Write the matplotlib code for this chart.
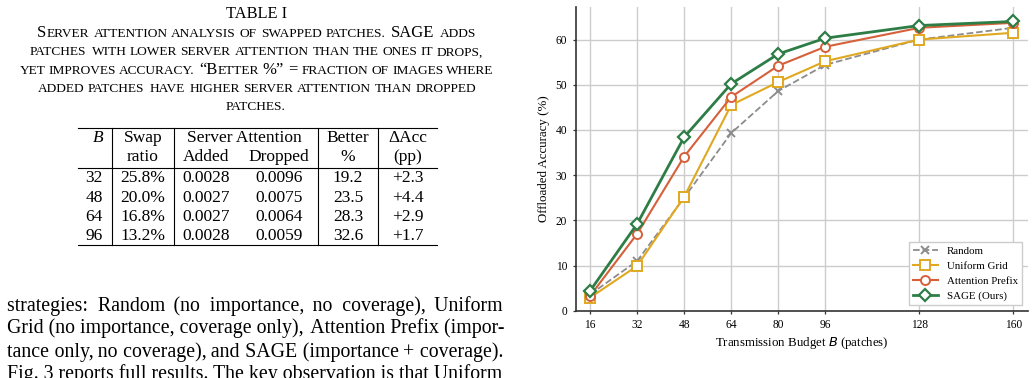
import matplotlib
matplotlib.use('Agg')
import matplotlib.pyplot as plt
from matplotlib.font_manager import findfont, FontProperties, get_font
from matplotlib.ft2font import FT2Font, LoadFlags
from matplotlib.backends.backend_agg import get_hinting_flag

SERIF = 'Liberation Serif'
plt.rcParams['font.family'] = [SERIF, 'DejaVu Serif']

W, H = 1035, 378

# ---- chart data (offloaded accuracy, %) ----
budgets = [16, 32, 48, 64, 80, 96, 128, 160]
random_acc = [3.6, 11.0, 25.0, 39.3, 48.6, 54.4, 60.0, 62.6]
uniform_acc = [2.9, 9.9, 25.2, 45.5, 50.6, 55.2, 60.0, 61.5]
prefix_acc = [3.3, 17.0, 34.1, 47.3, 54.2, 58.4, 62.6, 63.7]
sage_acc = [4.4, 19.2, 38.4, 50.2, 56.8, 60.3, 63.1, 64.0]
y_ticks = [0, 10, 20, 30, 40, 50, 60]

# ---- table data ----
tbl_budget = [32, 48, 64, 96]
swap_ratio = [25.8, 20.0, 16.8, 13.2]
attn_added = [0.0028, 0.0027, 0.0027, 0.0028]
attn_dropped = [0.0096, 0.0075, 0.0064, 0.0059]
better_pct = [19.2, 23.5, 28.3, 32.6]
delta_acc = [2.3, 4.4, 2.9, 1.7]

caption_title = 'TABLE I'
caption_lines = [
    'Server attention analysis of swapped patches. SAGE adds',
    'patches with lower server attention than the ones it drops,',
    'yet improves accuracy. \u201cBetter %\u201d = fraction of images where',
    'added patches have higher server attention than dropped',
    'patches.',
]
body_lines = [
    'strategies: Random (no importance, no coverage), Uniform',
    'Grid (no importance, coverage only), Attention Prefix (impor-',
    'tance only, no coverage), and SAGE (importance + coverage).',
    'Fig. 3 reports full results. The key observation is that Uniform',
]

fig = plt.figure(figsize=(W / 100, H / 100), dpi=100)
renderer = fig.canvas.get_renderer()

# page layer in pixel coordinates
page = fig.add_axes([0, 0, 1, 1])
page.set_xlim(0, W)
page.set_ylim(H, 0)
page.axis('off')

serif_path = findfont(FontProperties(family=SERIF))
serif_font = FT2Font(serif_path, hinting_factor=1)
draw_font = get_font(serif_path)


def adv_w(s, size):
    # unhinted advance width in pixels (dpi 100)
    serif_font.set_size(size, 100)
    total = 0.0
    for ch in s:
        g = serif_font.load_char(ord(ch), flags=LoadFlags.NO_HINTING)
        total += g.linearHoriAdvance / 65536
    return total


def draw_shift(s, size):
    # natural left bearing minus the offset Agg uses when drawing
    serif_font.set_size(size, 100)
    g = serif_font.load_char(ord(s[0]), flags=LoadFlags.NO_HINTING)
    lb = g.horiBearingX / 64
    draw_font.clear()
    draw_font.set_size(size, 100)
    draw_font.set_text(s, 0.0, flags=get_hinting_flag())
    xo = draw_font.get_bitmap_offset()[0] / 64
    return lb - xo


def ink_w(s, size):
    t = page.text(0, 0, s, fontsize=size)
    w = t.get_window_extent(renderer=renderer).width
    t.remove()
    return w


def small_caps_line(s, xc, yb, big, small):
    space = adv_w(' ', big)
    words = []
    for word in s.split(' '):
        runs = []
        for ch in word:
            if ch.islower():
                sz = small
            elif ch.isalnum() or not runs:
                sz = big
            else:
                sz = runs[-1][1]  # punctuation follows the run before it
            c = ch.upper()
            if runs and runs[-1][1] == sz:
                runs[-1][0] += c
            else:
                runs.append([c, sz])
        words.append([(r[0], r[1], adv_w(r[0], r[1])) for r in runs])
    total = sum(sum(r[2] for r in w) for w in words) + space * (len(words) - 1)
    x = xc - total / 2
    for w in words:
        for txt, sz, wd in w:
            page.text(x + draw_shift(txt, sz), yb, txt, fontsize=sz, ha='left', va='baseline')
            x += wd
        x += space


def justified_line(s, x0, x1, yb, size):
    # one text object per line; word gaps widened with hair spaces
    words = s.split(' ')
    gaps = len(words) - 1
    hair = '\u200a'
    sep = ' '
    if ink_w(s, size) > x1 - x0:
        sep = '\u2009'
    base = ink_w(sep.join(words), size)
    hair_w = (ink_w('a' + hair * 20 + 'a', size) - ink_w('aa', size)) / 20
    extra = max(0.0, (x1 - x0 - base) / gaps / hair_w)
    out = words[0]
    for i in range(1, len(words)):
        n = round(extra * i) - round(extra * (i - 1))
        out += sep + hair * n + words[i]
    page.text(x0, yb, out, fontsize=size, ha='left', va='baseline')


# ---- caption ----
page.text(257, 17.8, caption_title, fontsize=11.8, ha='center', va='baseline')
for i, line in enumerate(caption_lines):
    small_caps_line(line, 256, 37 + 18.3 * i, 12, 9.6)

# ---- table ----
tfs = 12.5
tl, tr = 78, 437
top_rule, mid_rule, bot_rule = 128.3, 168, 245
for yy in (top_rule, mid_rule, bot_rule):
    page.plot([tl, tr], [yy, yy], color='black', lw=0.8)
for xx in (111.5, 174, 318, 378):
    page.plot([xx, xx], [top_rule, bot_rule], color='black', lw=0.8)

h1, h2 = 142, 161.3
page.text(103, h1, 'B', fontsize=tfs, fontstyle='italic', ha='right', va='baseline')
page.text(142.7, h1, 'Swap', fontsize=tfs, ha='center', va='baseline')
page.text(142.7, h2, 'ratio', fontsize=tfs, ha='center', va='baseline')
page.text(244, h1, 'Server Attention', fontsize=tfs, ha='center', va='baseline')
page.text(206.5, h2, 'Added', fontsize=tfs, ha='center', va='baseline')
page.text(279, h2, 'Dropped', fontsize=tfs, ha='center', va='baseline')
page.text(348, h1, 'Better', fontsize=tfs, ha='center', va='baseline')
page.text(348, h2, '%', fontsize=tfs, ha='center', va='baseline')
page.text(408, h1, '\u0394Acc', fontsize=tfs, ha='center', va='baseline')
page.text(408, h2, '(pp)', fontsize=tfs, ha='center', va='baseline')

for i in range(len(tbl_budget)):
    yb = 182.3 + 19.2 * i
    page.text(103, yb, str(tbl_budget[i]), fontsize=tfs, ha='right', va='baseline')
    page.text(142.7, yb, f'{swap_ratio[i]:.1f}%', fontsize=tfs, ha='center', va='baseline')
    page.text(206.5, yb, f'{attn_added[i]:.4f}', fontsize=tfs, ha='center', va='baseline')
    page.text(279, yb, f'{attn_dropped[i]:.4f}', fontsize=tfs, ha='center', va='baseline')
    page.text(348, yb, f'{better_pct[i]:.1f}', fontsize=tfs, ha='center', va='baseline')
    page.text(408, yb, f'+{delta_acc[i]:.1f}', fontsize=tfs, ha='center', va='baseline')

# ---- body text (last line runs off the bottom edge like the page crop) ----
for i, line in enumerate(body_lines):
    justified_line(line, 7, 503, 310.5 + 23 * i, 14.3)

# ---- chart ----
ax = fig.add_axes([575.7 / W, 1 - 310.7 / H, (1028 - 575.7) / W, (310.7 - 7) / H])
ax.plot(budgets, random_acc, ls='--', color='#8c8c8c', marker='x', ms=6, mew=1.4,
        lw=1.3, label='Random')
ax.plot(budgets, uniform_acc, color='#e0a820', marker='s', ms=6.5, mfc='white', mew=1.4,
        lw=1.5, label='Uniform Grid')
ax.plot(budgets, prefix_acc, color='#d6603a', marker='o', ms=6.5, mfc='white', mew=1.4,
        lw=1.5, label='Attention Prefix')
ax.plot(budgets, sage_acc, color='#2e7d46', marker='D', ms=6.5, mfc='white', mew=1.6,
        lw=2, label='SAGE (Ours)')

ax.set_xlim(11.1, 165)
ax.set_ylim(0, 67.2)
ax.set_xticks(budgets)
ax.set_yticks(y_ticks)
ax.tick_params(labelsize=8.3, length=2.5, width=0.9, pad=3.5, color='#333333')
ax.grid(True, color='#cccccc', lw=1.0)
ax.set_axisbelow(True)
for side in ('top', 'right'):
    ax.spines[side].set_visible(False)
for side in ('left', 'bottom'):
    ax.spines[side].set_color('#333333')
    ax.spines[side].set_linewidth(1.2)
ax.set_xlabel('Transmission Budget $B$ (patches)', fontsize=9.3, labelpad=3)
ax.set_ylabel('Offloaded Accuracy (%)', fontsize=9.3, labelpad=4)
ax.legend(loc='lower right', bbox_to_anchor=(0.9868, 0.0178), borderaxespad=0,
          prop={'family': SERIF, 'size': 7.8}, fancybox=False, edgecolor='#cccccc',
          framealpha=1, handlelength=2.3)

fig.savefig('out.png', dpi=100)
